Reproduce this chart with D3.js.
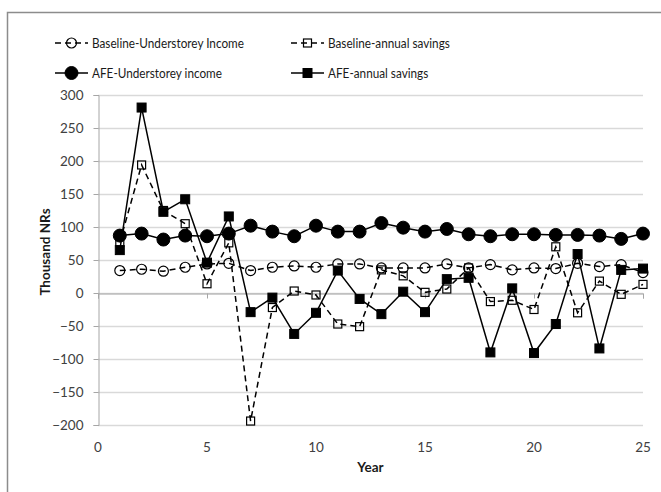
<!DOCTYPE html>
<html>
<head>
<meta charset="utf-8">
<script src="https://cdn.jsdelivr.net/npm/d3@7"></script>
<style>
  html, body { margin: 0; padding: 0; background: #fff; }
  svg { display: block; }
  text { font-family: Lato, "Liberation Sans", sans-serif; }
</style>
</head>
<body>
<svg id="chart" width="661" height="492"></svg>
<script>
// Year index (x values)
const years = d3.range(1, 26);

// Series values, thousand NRs
const baselineIncome  = [34, 36, 33, 39, 44, 45, 34, 39, 41, 39, 44, 44, 38, 38, 38, 44, 38, 43, 35, 38, 37, 45, 40, 43, 31];
const baselineSavings = [77, 194, 125, 105, 14, 76, -194, -22, 3, -3, -47, -51, 35, 26, 1, 6, 38, -13, -11, -25, 70, -30, 18, -2, 13];
const afeIncome       = [87, 90, 81, 87, 86, 90, 102, 93, 86, 102, 93, 93, 106, 99, 93, 97, 89, 86, 89, 89, 88, 88, 87, 82, 90];
const afeSavings      = [65, 281, 123, 142, 46, 116, -29, -7, -62, -30, 34, -9, -32, 2, -29, 21, 23, -90, 7, -91, -47, 59, -84, 35, 37];

// Axis ticks
const yTicks = [300, 250, 200, 150, 100, 50, 0, -50, -100, -150, -200];
const xTicks = [0, 5, 10, 15, 20, 25];

const seriesNames = [
  "Baseline-Understorey Income",
  "Baseline-annual savings",
  "AFE-Understorey income",
  "AFE-annual savings"
];

const series = [
  { name: seriesNames[0], values: baselineIncome,  dashed: true,  marker: "circle", filled: false },
  { name: seriesNames[1], values: baselineSavings, dashed: true,  marker: "square", filled: false },
  { name: seriesNames[2], values: afeIncome,       dashed: false, marker: "circle", filled: true },
  { name: seriesNames[3], values: afeSavings,      dashed: false, marker: "square", filled: true }
];

const svg = d3.select("#chart");

// Outer chart frame
svg.append("rect")
  .attr("x", 7.5).attr("y", 12.5)
  .attr("width", 720).attr("height", 600)
  .attr("fill", "none")
  .attr("stroke", "#8c8c8c")
  .attr("stroke-width", 1.5);

const plot = { left: 98, right: 643, top: 95, bottom: 425 };

const x = d3.scaleLinear().domain([0, 25]).range([plot.left, plot.right]);
const y = d3.scaleLinear().domain([-200, 300]).range([plot.bottom, plot.top]);

// Horizontal gridlines
svg.append("g")
  .selectAll("line")
  .data(yTicks)
  .join("line")
  .attr("x1", plot.left).attr("x2", plot.right)
  .attr("y1", d => y(d) + 0.5).attr("y2", d => y(d) + 0.5)
  .attr("stroke", "#d9d9d9")
  .attr("stroke-width", 1.5);

// Y axis
const yAxis = svg.append("g")
  .attr("transform", `translate(${plot.left + 0.5},0)`)
  .call(d3.axisLeft(y).tickValues(yTicks).tickSize(5).tickPadding(10).tickFormat(d3.format("d")));
yAxis.select(".domain").attr("stroke", "#a6a6a6").attr("stroke-width", 1);
yAxis.selectAll(".tick line").attr("stroke", "#a6a6a6");
yAxis.selectAll(".tick text")
  .attr("fill", "#404040")
  .style("font-size", "13.5px");

// X axis line sits at zero; labels sit under the plot
const xAxis = svg.append("g")
  .attr("transform", `translate(0,${y(0) + 0.5})`)
  .call(d3.axisBottom(x).tickValues(xTicks).tickSize(5).tickFormat(""));
xAxis.select(".domain").attr("stroke", "#a6a6a6").attr("stroke-width", 1);
xAxis.selectAll(".tick line").attr("stroke", "#a6a6a6");

svg.append("g")
  .selectAll("text")
  .data(xTicks)
  .join("text")
  .attr("x", d => x(d))
  .attr("y", plot.bottom + 27)
  .attr("text-anchor", "middle")
  .attr("fill", "#404040")
  .style("font-size", "13.5px")
  .text(d => d);

// Axis titles
svg.append("text")
  .attr("x", (plot.left + plot.right) / 2)
  .attr("y", 472)
  .attr("text-anchor", "middle")
  .attr("font-weight", "bold")
  .attr("fill", "#1a1a1a")
  .style("font-size", "13.5px")
  .text("Year");

svg.append("text")
  .attr("transform", "translate(50,252) rotate(-90)")
  .attr("text-anchor", "middle")
  .attr("font-weight", "bold")
  .attr("fill", "#1a1a1a")
  .style("font-size", "13.5px")
  .text("Thousand NRs");

// Marker drawing helper
function drawMarker(g, s, cx, cy) {
  if (s.marker === "circle") {
    const r = s.filled ? 6.5 : 5;
    g.append("circle")
      .attr("cx", cx).attr("cy", cy).attr("r", r)
      .attr("fill", s.filled ? "#000" : "none")
      .attr("stroke", "#000")
      .attr("stroke-width", s.filled ? 1 : 1.2);
  } else {
    const h = s.filled ? 4.5 : 4;
    g.append("rect")
      .attr("x", cx - h).attr("y", cy - h)
      .attr("width", 2 * h).attr("height", 2 * h)
      .attr("fill", s.filled ? "#000" : "none")
      .attr("stroke", "#000")
      .attr("stroke-width", s.filled ? 1 : 1.2);
  }
}

const line = d3.line()
  .x((d, i) => x(years[i]))
  .y(d => y(d));

// Series lines and markers
series.forEach(s => {
  const g = svg.append("g");
  g.append("path")
    .datum(s.values)
    .attr("d", line)
    .attr("fill", "none")
    .attr("stroke", "#000")
    .attr("stroke-width", 1.5)
    .attr("stroke-dasharray", s.dashed ? "6,4" : null);
  s.values.forEach((v, i) => drawMarker(g, s, x(years[i]), y(v)));
});

// Legend (two rows, two columns)
const legendPos = [
  { x: 55, y: 43 },
  { x: 291, y: 43 },
  { x: 55, y: 73 },
  { x: 291, y: 73 }
];

// Legend labels use a narrower set width
const legendCondense = 0.87;

series.forEach((s, i) => {
  const p = legendPos[i];
  const g = svg.append("g").attr("transform", `translate(${p.x},${p.y})`);
  g.append("line")
    .attr("x1", 0).attr("x2", 33)
    .attr("y1", 0).attr("y2", 0)
    .attr("stroke", "#000")
    .attr("stroke-width", 1.5)
    .attr("stroke-dasharray", s.dashed ? "6,4" : null);
  drawMarker(g, s, 16.5, 0);
  const t = g.append("text")
    .attr("x", 37)
    .attr("y", 5)
    .attr("fill", "#1a1a1a")
    .style("font-size", "13.5px")
    .text(s.name);
  const w = t.node().getComputedTextLength();
  t.attr("textLength", w * legendCondense).attr("lengthAdjust", "spacingAndGlyphs");
});
</script>
</body>
</html>
